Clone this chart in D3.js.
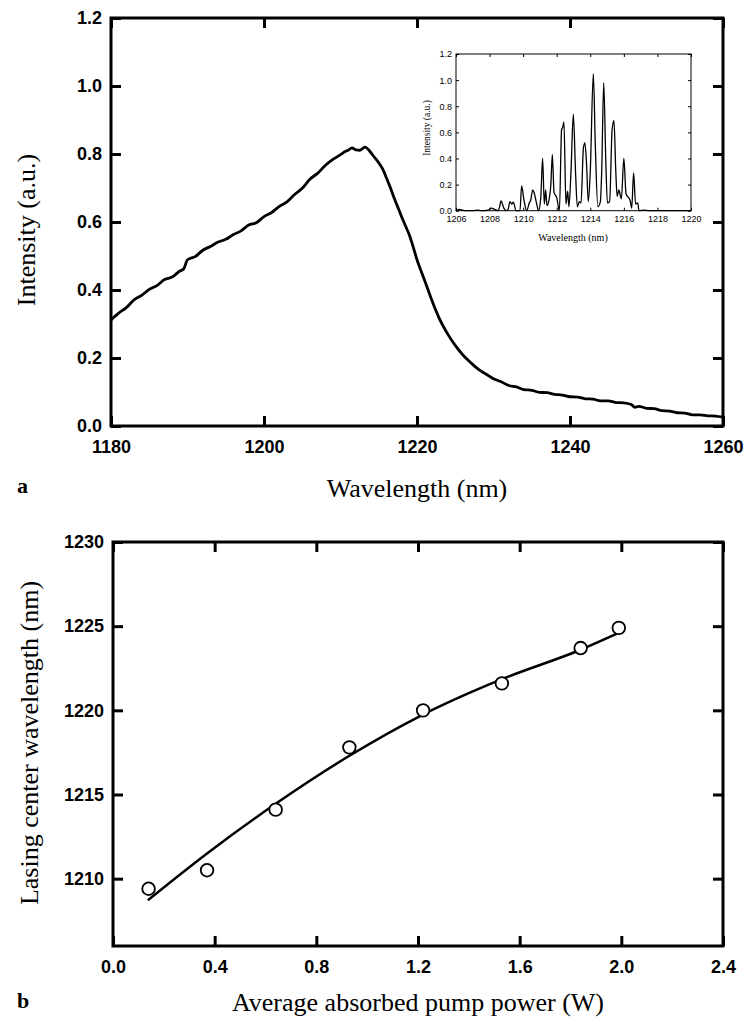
<!DOCTYPE html>
<html>
<head>
<meta charset="utf-8">
<script src="https://cdn.jsdelivr.net/npm/d3@7"></script>
<style>
body { margin: 0; background: #fff; }
svg { display: block; }
</style>
</head>
<body>
<script>

// panel a: broadband emission spectrum
var specWl = [1180, 1181, 1182, 1183, 1184, 1185, 1186, 1187, 1188, 1189, 1189.5, 1190, 1191, 1192,
    1193, 1194, 1195, 1196, 1197, 1198, 1199, 1200, 1201, 1202, 1203, 1204, 1205, 1206, 1207,
    1208, 1209, 1210, 1210.5, 1211, 1211.5, 1212, 1212.5, 1213.2, 1213.7, 1214.2, 1215, 1215.6, 1216,
    1216.5, 1217, 1217.5, 1218, 1218.5, 1219, 1219.5, 1220, 1220.5, 1221, 1222, 1223, 1224, 1225,
    1226, 1227, 1228, 1229, 1230, 1231, 1232, 1233,
    1234, 1235, 1236, 1237, 1238, 1239, 1240, 1241, 1242, 1243, 1244, 1245, 1246, 1247, 1248,
    1248.5, 1249, 1250, 1251, 1252, 1253, 1254, 1255, 1256, 1257, 1258, 1259, 1260];
var specI = [0.312, 0.332, 0.348, 0.371, 0.384, 0.402, 0.413, 0.431, 0.438, 0.456, 0.462, 0.489, 0.498, 0.517,
    0.528, 0.541, 0.549, 0.563, 0.574, 0.591, 0.598, 0.616, 0.628, 0.646, 0.659, 0.681, 0.699, 0.726, 0.743,
    0.766, 0.784, 0.798, 0.806, 0.811, 0.818, 0.812, 0.811, 0.82, 0.812, 0.797, 0.774, 0.752, 0.73,
    0.702, 0.671, 0.643, 0.615, 0.588, 0.562, 0.527, 0.489, 0.458, 0.428, 0.366, 0.312, 0.271, 0.237,
    0.209, 0.187, 0.167, 0.153, 0.139, 0.13, 0.119, 0.115,
    0.107, 0.105, 0.099, 0.098, 0.093, 0.091, 0.086, 0.085, 0.08, 0.079, 0.074, 0.074, 0.069, 0.068, 0.063,
    0.055, 0.058, 0.052, 0.051, 0.045, 0.044, 0.039, 0.038, 0.033, 0.033, 0.03, 0.029, 0.026];

// inset: lasing spectrum
var lasWl = [1206.0, 1206.2, 1206.4, 1206.6, 1207.0, 1207.3, 1207.5, 1207.9, 1208.1, 1208.3, 1208.5,
    1208.6, 1208.68, 1208.85, 1209.0, 1209.1, 1209.22, 1209.32, 1209.42, 1209.57, 1209.81, 1209.91,
    1210.05, 1210.21, 1210.37, 1210.45, 1210.57, 1210.65, 1210.81, 1210.92, 1211.05, 1211.16, 1211.26,
    1211.34, 1211.42, 1211.54, 1211.65, 1211.74, 1211.84, 1212.0, 1212.16, 1212.29, 1212.36, 1212.43,
    1212.55, 1212.65, 1212.73, 1212.85, 1212.99, 1213.12, 1213.23, 1213.35, 1213.45, 1213.59, 1213.68,
    1213.78, 1213.88, 1214.0, 1214.18, 1214.3, 1214.45, 1214.6, 1214.68, 1214.8, 1214.92, 1215.02,
    1215.15, 1215.3, 1215.41, 1215.52, 1215.6, 1215.7, 1215.85, 1216.0, 1216.13, 1216.37, 1216.47,
    1216.58, 1216.7, 1216.83, 1216.9, 1217.2, 1217.5, 1217.8, 1220.0];
var lasI = [0.0, 0.01, 0.004, 0.0, 0.0, 0.005, 0.0, 0.004, 0.02, 0.01, 0.0,
    0.03, 0.075, 0.02, 0.0, 0.01, 0.07, 0.05, 0.065, 0.0, 0.0, 0.19,
    0.08, 0.0, 0.06, 0.08, 0.16, 0.14, 0.05, 0.0, 0.1, 0.40, 0.05,
    0.16, 0.04, 0.08, 0.2, 0.43, 0.14, 0.1, 0.0, 0.62, 0.64, 0.68,
    0.05, 0.15, 0.03, 0.3, 0.74, 0.3, 0.03, 0.07, 0.06, 0.48, 0.52,
    0.35, 0.07, 0.3, 1.05, 0.5, 0.03, 0.07, 0.3, 0.98, 0.4, 0.06,
    0.07, 0.62, 0.69, 0.3, 0.11, 0.16, 0.09, 0.40, 0.13, 0.08, 0.02,
    0.29, 0.05, 0.06, 0.0, 0.005, 0.0, 0.0, 0.0];

// panel b: centre wavelength vs absorbed pump power
var pumpW = [0.14, 0.37, 0.64, 0.93, 1.22, 1.53, 1.84, 1.99];
var centreNm = [1209.4, 1210.5, 1214.1, 1217.8, 1220.0, 1221.6, 1223.7, 1224.9];
var fitW = [0.137, 0.37, 0.64, 0.93, 1.22, 1.53, 1.84, 1.99];
var fitNm = [1208.72, 1211.5, 1214.45, 1217.3, 1219.75, 1221.85, 1223.6, 1224.6];

var ticksA = [1180, 1200, 1220, 1240, 1260];
var ticksAy = [0, 0.2, 0.4, 0.6, 0.8, 1.0, 1.2];
var ticksIn = [1206, 1208, 1210, 1212, 1214, 1216, 1218, 1220];
var ticksB = [0, 0.4, 0.8, 1.2, 1.6, 2.0, 2.4];
var ticksBy = [1210, 1215, 1220, 1225, 1230];

var W = 748, H = 1025;
var svg = d3.select("body").append("svg").attr("width", W).attr("height", H);

function zip(a, b) {
    var out = [];
    for (var i = 0; i < a.length; i++) out.push([a[i], b[i]]);
    return out;
}

// frame with inward ticks on all four sides, labels on bottom and left
function drawFrame(x, y, xt, yt, o) {
    var g = svg.append("g");
    var x0 = x.range()[0], x1 = x.range()[1];
    var y0 = y.range()[0], y1 = y.range()[1];

    var bottom = g.append("g").attr("transform", "translate(0," + y0 + ")")
        .call(d3.axisBottom(x).tickValues(xt).tickSize(-o.tick).tickSizeOuter(0)
            .tickPadding(o.padX).tickFormat(o.fmtX));
    var left = g.append("g").attr("transform", "translate(" + x0 + ",0)")
        .call(d3.axisLeft(y).tickValues(yt).tickSize(-o.tick).tickSizeOuter(0)
            .tickPadding(o.padY).tickFormat(o.fmtY));
    var top = g.append("g").attr("transform", "translate(0," + y1 + ")")
        .call(d3.axisTop(x).tickValues(xt).tickSize(-o.tick).tickSizeOuter(0).tickFormat(""));
    var right = g.append("g").attr("transform", "translate(" + x1 + ",0)")
        .call(d3.axisRight(y).tickValues(yt).tickSize(-o.tick).tickSizeOuter(0).tickFormat(""));

    [bottom, left, top, right].forEach(function(a) {
        a.select(".domain").remove();
        a.selectAll(".tick line").attr("stroke", "#000").attr("stroke-width", o.sw);
        a.selectAll(".tick text").attr("fill", "#000")
            .style("font-family", o.font).style("font-size", o.size + "px")
            .style("font-weight", o.weight);
    });

    g.append("rect")
        .attr("x", x0).attr("y", y1)
        .attr("width", x1 - x0).attr("height", y0 - y1)
        .attr("fill", "none").attr("stroke", "#000").attr("stroke-width", o.sw);
    return g;
}

var serif = "'Liberation Serif', 'Times New Roman', serif";
var sans = "'Liberation Sans', Arial, sans-serif";

// ---------- panel a ----------
var xa = d3.scaleLinear().domain([1180, 1260]).range([111, 723]);
var ya = d3.scaleLinear().domain([0, 1.2]).range([426, 18]);

svg.append("path")
    .datum(zip(specWl, specI))
    .attr("fill", "none").attr("stroke", "#000").attr("stroke-width", 2.8)
    .attr("stroke-linejoin", "round")
    .attr("d", d3.line().curve(d3.curveMonotoneX)
        .x(function(d) { return xa(d[0]); }).y(function(d) { return ya(d[1]); }));

drawFrame(xa, ya, ticksA, ticksAy, {
    tick: 10, sw: 3, padX: 14, padY: 9,
    fmtX: d3.format("d"), fmtY: d3.format(".1f"),
    font: sans, size: 18, weight: "bold"
});

svg.append("text").attr("x", 417).attr("y", 497).attr("text-anchor", "middle")
    .style("font-family", serif).style("font-size", "26px")
    .text("Wavelength (nm)");
svg.append("text").attr("transform", "translate(35,230) rotate(-90)").attr("text-anchor", "middle")
    .style("font-family", serif).style("font-size", "26px")
    .text("Intensity (a.u.)");
svg.append("text").attr("x", 17).attr("y", 493)
    .style("font-family", serif).style("font-size", "22px")
    .style("font-weight", "bold").text("a");

// ---------- inset ----------
var xi = d3.scaleLinear().domain([1206, 1220]).range([456, 691]);
var yi = d3.scaleLinear().domain([0, 1.2]).range([210.7, 54]);

svg.append("path")
    .datum(zip(lasWl, lasI))
    .attr("fill", "none").attr("stroke", "#000").attr("stroke-width", 1.3)
    .attr("stroke-linejoin", "round")
    .attr("d", d3.line().curve(d3.curveMonotoneX)
        .x(function(d) { return xi(d[0]); }).y(function(d) { return yi(d[1]); }));

drawFrame(xi, yi, ticksIn, ticksAy, {
    tick: 3, sw: 1, padX: 5, padY: 4,
    fmtX: d3.format("d"), fmtY: d3.format(".1f"),
    font: sans, size: 9, weight: "normal"
});

svg.append("text").attr("x", 573).attr("y", 241).attr("text-anchor", "middle")
    .style("font-family", serif).style("font-size", "10px")
    .text("Wavelength (nm)");
svg.append("text").attr("transform", "translate(430,128) rotate(-90)").attr("text-anchor", "middle")
    .style("font-family", serif).style("font-size", "9.5px")
    .text("Intensity (a.u.)");

// ---------- panel b ----------
var xb = d3.scaleLinear().domain([0, 2.4]).range([113, 723]);
var yb = d3.scaleLinear().domain([1206, 1230]).range([946, 542]);

svg.append("path")
    .datum(zip(fitW, fitNm))
    .attr("fill", "none").attr("stroke", "#000").attr("stroke-width", 2.5)
    .attr("d", d3.line().curve(d3.curveMonotoneX)
        .x(function(d) { return xb(d[0]); }).y(function(d) { return yb(d[1]); }));

svg.append("g").selectAll("circle")
    .data(zip(pumpW, centreNm))
    .enter().append("circle")
    .attr("cx", function(d) { return xb(d[0]); })
    .attr("cy", function(d) { return yb(d[1]); })
    .attr("r", 6.3)
    .attr("fill", "#fff").attr("stroke", "#000").attr("stroke-width", 1.8);

drawFrame(xb, yb, ticksB, ticksBy, {
    tick: 10, sw: 3, padX: 14, padY: 9,
    fmtX: d3.format(".1f"), fmtY: d3.format("d"),
    font: sans, size: 18, weight: "bold"
});

svg.append("text").attr("x", 418).attr("y", 1011).attr("text-anchor", "middle")
    .style("font-family", serif).style("font-size", "26px")
    .text("Average absorbed pump power (W)");
svg.append("text").attr("transform", "translate(38,743) rotate(-90)").attr("text-anchor", "middle")
    .style("font-family", serif).style("font-size", "26px")
    .text("Lasing center wavelength (nm)");
svg.append("text").attr("x", 17).attr("y", 1008)
    .style("font-family", serif).style("font-size", "22px")
    .style("font-weight", "bold").text("b");

</script>
</body>
</html>
